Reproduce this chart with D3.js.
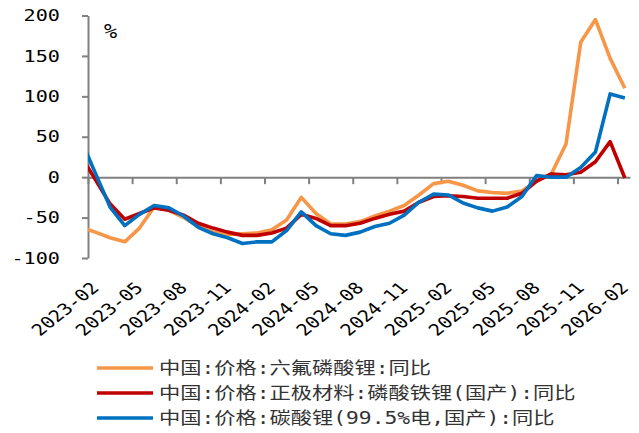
<!DOCTYPE html>
<html><head><meta charset="utf-8">
<script src="https://cdn.jsdelivr.net/npm/d3@7"></script>
<style>html,body{margin:0;padding:0;background:#fff;} svg{display:block;}</style>
</head><body><svg id="c" width="639" height="433"></svg>
<script>
const months = ["2023-01","2023-02","2023-03","2023-04","2023-05","2023-06","2023-07","2023-08","2023-09","2023-10","2023-11","2023-12",
"2024-01","2024-02","2024-03","2024-04","2024-05","2024-06","2024-07","2024-08","2024-09","2024-10","2024-11","2024-12",
"2025-01","2025-02","2025-03","2025-04","2025-05","2025-06","2025-07","2025-08","2025-09","2025-10","2025-11","2025-12",
"2026-01","2026-02"];
const seriesNames = ["中国:价格:六氟磷酸锂:同比","中国:价格:正极材料:磷酸铁锂(国产):同比","中国:价格:碳酸锂(99.5%电,国产):同比"];
const lipf6 = [-62,-68,-75,-80,-63,-37,-41,-50,-61,-68,-71,-70,
 -69,-65,-53,-25,-45,-58,-58,-55,-48,-42,-35,-22,
 -8,-5,-10,-17,-19,-20,-17,-5,4,41,167,195,147,110];
const lfp = [27,-3,-33,-52,-45,-38,-41,-47,-57,-63,-68,-72,
 -72,-69,-63,-46,-51,-60,-60,-57,-51,-46,-42,-31,
 -24,-23,-24,-26,-26,-26,-20,-5,4,3,6,19,44,-1];
const li2co3 = [47,5,-37,-60,-46,-35,-38,-48,-62,-70,-75,-82,
 -80,-80,-66,-43,-60,-70,-72,-68,-61,-57,-47,-31,
 -21,-22,-32,-38,-42,-37,-24,2,0,0,12,31,103,98];
const yTicks = [-100,-50,0,50,100,150,200];
const xTickLabels = ["2023-02","2023-05","2023-08","2023-11","2024-02","2024-05","2024-08","2024-11","2025-02","2025-05","2025-08","2025-11","2026-02"];
const colors = ["#F79646","#C00000","#0070C0"];
const yUnit = "%";

const svg = d3.select("#c");
const FONT = '"DejaVu Sans Mono","Noto Sans CJK SC",monospace';
const SX = 1.26;
const idx = s => { const [y,m] = s.split("-").map(Number); return (y-2023)*12 + (m-2); };
const x = d3.scaleLinear().domain([0, 36.85]).range([88, 630]);
const y = d3.scaleLinear().domain([-100, 200]).range([258, 15.5]);

svg.append("defs").append("clipPath").attr("id","clip")
  .append("rect").attr("x",88).attr("y",0).attr("width",560).attr("height",300);

// y axis
const ya = svg.append("g").attr("transform","translate(88,0)")
  .call(d3.axisLeft(y).tickValues(yTicks).tickSize(6).tickSizeOuter(0).tickFormat(""));
// x axis at zero
const xa = svg.append("g").attr("transform",`translate(0,${y(0)})`)
  .call(d3.axisBottom(x).tickValues(xTickLabels.map(idx)).tickSize(7).tickSizeOuter(0).tickFormat(""));
[ya, xa].forEach(g => {
  g.selectAll("path,line").attr("stroke","#808080").attr("stroke-width",2);
});

// y labels
svg.append("g").selectAll("text").data(yTicks).join("text")
  .attr("transform", d => `translate(60,${y(d)}) scale(${SX},1)`)
  .attr("text-anchor","end").attr("dominant-baseline","central")
  .style("font-family",FONT).style("font-size","16px").attr("fill","#000")
  .text(d => String(d));
svg.append("text").attr("transform",`translate(104,${y(200)+16}) scale(1.15,1)`)
  .attr("dominant-baseline","central")
  .style("font-family",FONT).style("font-size","19px").attr("fill","#000").text(yUnit);

// x labels
svg.append("g").selectAll("text").data(xTickLabels).join("text")
  .attr("transform", d => `translate(${x(idx(d))+12},289) scale(${SX},1) rotate(-45)`)
  .attr("text-anchor","end")
  .style("font-family",FONT).style("font-size","16px").attr("fill","#000")
  .text(d => d);

// lines
const series = [lipf6, lfp, li2co3];
const line = d3.line().x((d,i) => x(idx(months[i]) + 0.5)).y(d => y(d));
svg.append("g").attr("clip-path","url(#clip)").selectAll("path").data(series).join("path")
  .attr("d", d => line(d)).attr("fill","none")
  .attr("stroke",(d,i) => colors[i]).attr("stroke-width",3.6)
  .attr("stroke-linejoin","round").attr("stroke-linecap","butt");

// legend
const lg = svg.append("g").selectAll("g").data(seriesNames).join("g")
  .attr("transform",(d,i) => `translate(0,${368 + i*25})`);
lg.append("line").attr("x1",97).attr("x2",153).attr("y1",0).attr("y2",0)
  .attr("stroke",(d,i) => colors[i]).attr("stroke-width",3.6);
lg.append("text").attr("transform",`translate(159,0) scale(1.25,1)`)
  .attr("dominant-baseline","central")
  .style("font-family",FONT).style("font-size","17px").attr("fill","#333")
  .text(d => d);
</script></body></html>
